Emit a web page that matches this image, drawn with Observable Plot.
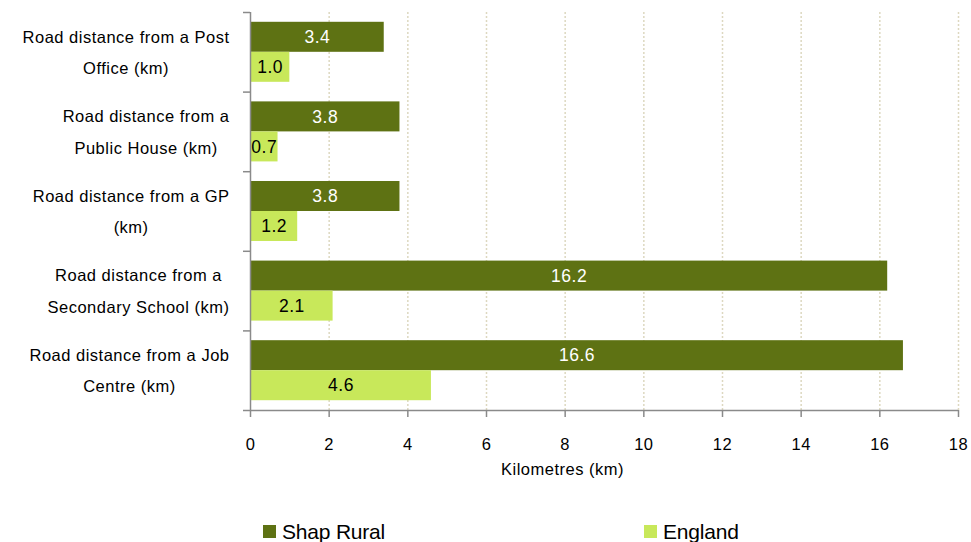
<!DOCTYPE html>
<html><head><meta charset="utf-8">
<script src="https://cdn.jsdelivr.net/npm/d3@7"></script>
<script src="https://cdn.jsdelivr.net/npm/@observablehq/plot@0.6"></script>
<style>
body{margin:0;background:#fff;font-family:"Liberation Sans",Arial,sans-serif;}
#wrap{position:relative;width:971px;height:542px;overflow:hidden;background:#fff}
.leg{position:absolute;top:521px;font-size:21px;line-height:21px;color:#000;letter-spacing:-0.2px;white-space:nowrap}
.sw{position:absolute;top:4px;width:13px;height:13px}
svg text{letter-spacing:0.5px}
</style></head><body><div id="wrap"></div>
<script>
const categories = [
  "Road distance from a Post\nOffice (km)",
  "Road distance from a\nPublic House (km)",
  "Road distance from a GP\n(km)",
  "Road distance from a\nSecondary School (km)",
  "Road distance from a Job\nCentre (km)"
];
const series = ["Shap Rural", "England"];
const shapRural = [3.4, 3.8, 3.8, 16.2, 16.6];
const england = [1.0, 0.7, 1.2, 2.1, 4.6];
const xTicks = [0, 2, 4, 6, 8, 10, 12, 14, 16, 18];
const xTitle = "Kilometres (km)";
const colors = ["#5e7213", "#c8e85a"];
const valueColors = ["#ffffff", "#000000"];

const pad = 0.123;
const values = [shapRural, england];
const rows = [];
series.forEach((s, si) => {
  values[si].forEach((v, i) => {
    rows.push({cat: categories[i], i, s, si, value: v,
      y1: si === 0 ? i + pad : i + 0.5,
      y2: si === 0 ? i + 0.5 : i + 1 - pad});
  });
});

const marks = [
  Plot.ruleX(xTicks.filter(t => t > 0), {stroke: "#ddd8c0", strokeWidth: 1.5, strokeDasharray: "2,2"})
];
series.forEach((s, si) => {
  const d = rows.filter(r => r.si === si);
  marks.push(Plot.rect(d, {x1: () => 0, x2: "value", y1: "y1", y2: "y2", fill: colors[si]}));
});
series.forEach((s, si) => {
  const d = rows.filter(r => r.si === si);
  marks.push(Plot.text(d, {x: r => r.value / 2, y: r => (r.y1 + r.y2) / 2, text: r => r.value.toFixed(1), fill: valueColors[si], fontSize: 17.5}));
});
marks.push(Plot.ruleX([0], {stroke: "#8a8a8a", strokeWidth: 1.5}));
marks.push(Plot.ruleY([5], {stroke: "#8a8a8a", strokeWidth: 1.5}));
marks.push(Plot.text(categories, {y: (d, i) => i + 0.5, frameAnchor: "left", dx: -21, dy: -4, textAnchor: "end", lineHeight: 1.9, fontSize: 16.5, fill: "#000"}));
marks.push(Plot.text([xTitle], {frameAnchor: "bottom", dx: -42, dy: 64, fontSize: 16.5, fill: "#000"}));

const chart = Plot.plot({
  width: 971,
  height: 505,
  marginLeft: 250,
  marginRight: 13,
  marginTop: 12,
  marginBottom: 95,
  style: {fontFamily: "'Liberation Sans', Arial, sans-serif", fontSize: "16.5px", background: "#fff", color: "#000"},
  x: {domain: [0, 18], ticks: xTicks, tickSize: 7, tickPadding: 21, label: null},
  y: {domain: [0, 5], reverse: true, ticks: [0, 1, 2, 3, 4, 5], tickSize: 7, tickFormat: () => "", label: null},
  marks
});
const wrap = document.getElementById("wrap");
wrap.appendChild(chart);

// axis tick colour
chart.querySelectorAll('[aria-label^="x-axis"], [aria-label^="y-axis"]').forEach(g => {
  g.querySelectorAll("line, path").forEach(l => { l.setAttribute("stroke", "#8a8a8a"); l.setAttribute("stroke-width", "1.5"); });
  g.querySelectorAll("text").forEach(t => t.setAttribute("fill", "#000"));
});
// centre the lines of each category label inside its right-aligned block
chart.querySelectorAll("text").forEach(t => {
  const spans = Array.from(t.querySelectorAll("tspan"));
  if (spans.length < 2) return;
  const w = Math.max(...spans.map(s => s.getComputedTextLength()));
  t.setAttribute("text-anchor", "middle");
  spans.forEach(s => { s.setAttribute("x", -w / 2); s.setAttribute("text-anchor", "middle"); });
});

// legend
const legLeft = [263, 644];
series.forEach((s, si) => {
  const item = document.createElement("div");
  item.className = "leg";
  item.style.left = legLeft[si] + "px";
  item.innerHTML = `<span class="sw" style="left:0;background:${colors[si]}"></span><span style="margin-left:19px">${s}</span>`;
  wrap.appendChild(item);
});
</script></body></html>
